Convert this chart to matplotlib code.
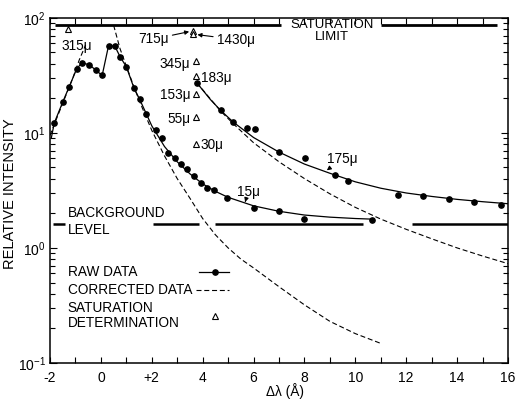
#!/usr/bin/env python3

"""Relative intensity vs. wavelength offset, raw/corrected data with saturation points."""

import matplotlib

matplotlib.use("Agg")
import matplotlib.pyplot as plt
from matplotlib.ticker import FixedLocator, LogLocator, NullFormatter

plt.rcParams["font.family"] = ["Liberation Sans", "DejaVu Sans"]

# raw data points, 15 micron slit
raw15_x = [-1.83, -1.5, -1.25, -0.95, -0.75, -0.45, -0.2, 0.05, 0.3, 0.55, 0.75, 1.0,
           1.3, 1.52, 1.78, 2.15, 2.39, 2.65, 2.91, 3.14, 3.4, 3.66, 3.92, 4.18, 4.46,
           4.95, 6.02, 6.99, 8.0, 10.67]
raw15_y = [12.2, 18.5, 25, 36, 40.5, 39, 35, 31.5, 57, 56.5, 46, 37.5,
           24.5, 19.6, 14.7, 10.5, 9.1, 6.7, 6.1, 5.4, 4.85, 4.2, 3.65, 3.33, 3.16,
           2.7, 2.23, 2.11, 1.79, 1.75]

# solid line drawn through the 15 micron data
fit15_x = [-1.95, -1.83, -1.5, -1.25, -0.95, -0.75, -0.45, -0.2, 0.05, 0.3, 0.55, 0.75,
           1.0, 1.3, 1.52, 1.78, 2.0, 2.5, 3.0, 3.5, 4.0, 4.5, 5.0, 6.0, 7.0, 8.0, 9.0,
           10.0, 10.6]
fit15_y = [9.0, 12.2, 18.5, 25, 36, 40.5, 39, 35, 31.5, 57, 56.5, 46,
           37.5, 24.5, 19.6, 14.7, 11.5, 7.6, 5.6, 4.4, 3.6, 3.1, 2.75, 2.32, 2.08, 1.93,
           1.85, 1.8, 1.78]

# corrected 15 micron curve, left and right wings
corr15_left_x = [-2.0, -1.7, -1.4, -1.1, -0.85, -0.6]
corr15_left_y = [9.5, 14, 20.5, 30, 43, 58]
corr15_right_x = [0.5, 0.75, 1.0, 1.3, 1.6, 2.0, 2.5, 3.0, 3.5, 4.0, 4.5, 5.0, 5.5, 6.0,
                  7.0, 8.0, 9.0, 10.0, 11.0]
corr15_right_y = [86, 54, 38, 25, 17, 10.5, 6.3, 4.0, 2.7, 1.8, 1.3, 1.0, 0.8, 0.67,
                  0.46, 0.32, 0.23, 0.18, 0.148]

# raw data points, 175 micron slit
raw175_x = [3.77, 4.71, 5.21, 5.73, 6.07, 7.01, 8.04, 9.2, 9.7, 11.69, 12.67, 13.7,
            14.68, 15.73]
raw175_y = [27.2, 15.7, 12.3, 10.9, 10.7, 6.77, 6.08, 4.29, 3.83, 2.91, 2.81, 2.67,
            2.5, 2.35]

fit175_x = [3.77, 4.3, 4.7, 5.2, 6.0, 7.0, 8.0, 9.0, 10.0, 11.0, 12.0, 13.0, 14.0,
            15.0, 16.0]
fit175_y = [27.2, 19.5, 15.7, 12.4, 9.1, 6.8, 5.35, 4.45, 3.75, 3.3, 3.0, 2.8, 2.64,
            2.52, 2.42]

corr175_x = [3.77, 4.7, 5.2, 6.0, 7.0, 8.0, 9.0, 10.0, 11.0, 12.0, 13.0, 14.0, 15.0, 16.0]
corr175_y = [27.2, 15.5, 12.0, 8.2, 5.6, 4.0, 2.95, 2.25, 1.78, 1.45, 1.2, 1.0, 0.85, 0.73]

# saturation determinations
sat_x = [-1.28, 3.63, 3.63, 3.74, 3.74, 3.74, 3.74, 3.74]
sat_y = [80, 77, 72, 42, 31, 21.9, 13.7, 8.05]
sat_labels = ["315\u03bc", "715\u03bc", "1430\u03bc", "345\u03bc", "183\u03bc",
              "153\u03bc", "55\u03bc", "30\u03bc"]

# reference levels
saturation_level = 87
saturation_starts = [-1.8, 11.0]
saturation_ends = [7.07, 15.57]
background_level = 1.62
background_starts = [-1.88, 2.05, 4.49, 12.23]
background_ends = [-1.41, 3.86, 10.3, 16.0]

x_ticks = [-2, 0, 2, 4, 6, 8, 10, 12, 14, 16]
x_ticklabels = ["-2", "0", "+2", "4", "6", "8", "10", "12", "14", "16"]

# label placement per saturation point: (dx, dy) in pixels, alignment
sat_label_place = [
    ((8, -16), "center"),
    ((-25, -7), "right"),
    ((24, -4), "left"),
    ((-6, -1), "right"),
    ((5, 0), "left"),
    ((-6, 0), "right"),
    ((-6, 0), "right"),
    ((4, 0), "left"),
]

fig = plt.figure(figsize=(5.15, 4.05), dpi=100)
ax = fig.add_axes([50 / 515, 42 / 405, 458 / 515, 345.3 / 405])
ax.set_yscale("log")
ax.set_xlim(-2, 16)
ax.set_ylim(0.1, 100)

dash = (0, (4.5, 2.5))
ax.plot(fit15_x, fit15_y, color="black", lw=0.9)
ax.plot(raw15_x, raw15_y, "o", color="black", ms=3.8, ls="none")
ax.plot(corr15_left_x, corr15_left_y, color="black", lw=0.8, ls=dash)
ax.plot(corr15_right_x, corr15_right_y, color="black", lw=0.8, ls=dash)
ax.plot(fit175_x, fit175_y, color="black", lw=0.9)
ax.plot(corr175_x, corr175_y, color="black", lw=0.8, ls=dash)
ax.plot(raw175_x, raw175_y, "o", color="black", ms=3.8, ls="none")
ax.plot(sat_x, sat_y, "^", mfc="white", mec="black", mew=0.8, ms=5, ls="none")

ax.hlines([saturation_level] * len(saturation_starts), saturation_starts, saturation_ends,
          color="black", lw=2)
ax.hlines([background_level] * len(background_starts), background_starts, background_ends,
          color="black", lw=1.8)

fs = 9.8
for x, y, label, (offset, ha) in zip(sat_x, sat_y, sat_labels, sat_label_place):
    arrow = None
    if label in ("715\u03bc", "1430\u03bc"):
        arrow = dict(arrowstyle="-|>", color="black", lw=0.8, mutation_scale=6,
                     shrinkA=1, shrinkB=3)
    ax.annotate(label, (x, y), xytext=offset, textcoords="offset pixels",
                ha=ha, va="center_baseline", fontsize=fs, arrowprops=arrow)

ax.annotate("175\u03bc", (8.88, 4.72), xytext=(8.88, 6.15), ha="left", va="center_baseline",
            fontsize=fs, arrowprops=dict(arrowstyle="-|>", color="black", lw=0.8,
                                         mutation_scale=6, shrinkA=0, shrinkB=0))
ax.annotate("15\u03bc", (5.67, 2.5), xytext=(5.34, 3.16), ha="left", va="center_baseline",
            fontsize=fs, arrowprops=dict(arrowstyle="-|>", color="black", lw=0.8,
                                         mutation_scale=6, shrinkA=0, shrinkB=0))

ax.text(9.07, 87, "SATURATION", ha="center", va="center", fontsize=9.5)
ax.text(9.07, 68, "LIMIT", ha="center", va="center", fontsize=9.5)

# background label and legend, axes fractions
ax.text(0.039, 0.4335, "BACKGROUND", transform=ax.transAxes, va="center", fontsize=fs)
ax.text(0.039, 0.385, "LEVEL", transform=ax.transAxes, va="center", fontsize=fs)
ax.text(0.039, 0.2644, "RAW DATA", transform=ax.transAxes, va="center", fontsize=fs)
ax.text(0.039, 0.2114, "CORRECTED DATA", transform=ax.transAxes, va="center", fontsize=fs)
ax.text(0.039, 0.1584, "SATURATION", transform=ax.transAxes, va="center", fontsize=fs)
ax.text(0.039, 0.115, "DETERMINATION", transform=ax.transAxes, va="center", fontsize=fs)
ax.plot([0.325, 0.391], [0.2644, 0.2644], transform=ax.transAxes, color="black", lw=0.9)
ax.plot([0.36], [0.2644], "o", transform=ax.transAxes, color="black", ms=3.8)
ax.plot([0.318, 0.391], [0.2114, 0.2114], transform=ax.transAxes, color="black", lw=0.8,
        ls=dash)
ax.plot([0.36], [0.136], "^", transform=ax.transAxes, mfc="white", mec="black",
        mew=0.8, ms=5)

ax.set_xticks(x_ticks)
ax.set_xticklabels(x_ticklabels)
ax.xaxis.set_minor_locator(FixedLocator(range(-1, 16, 2)))
ax.yaxis.set_minor_locator(LogLocator(base=10, subs=range(2, 10)))
ax.yaxis.set_minor_formatter(NullFormatter())
ax.tick_params(which="both", direction="in", top=True, right=True, width=0.8)
ax.tick_params(which="major", length=5)
ax.tick_params(which="minor", length=3.5)
ax.tick_params(axis="x", which="both", length=4, labelsize=10, pad=6)
ax.tick_params(axis="y", labelsize=10, pad=3)
for spine in ax.spines.values():
    spine.set_linewidth(1.1)

ax.set_ylabel("RELATIVE INTENSITY", fontsize=10.5)
ax.yaxis.set_label_coords(-0.072, 0.49)
ax.set_xlabel("\u0394\u03bb (\u00c5)", fontsize=fs)
ax.xaxis.set_label_coords(0.513, -0.058)

fig.savefig("out.png", dpi=100)
